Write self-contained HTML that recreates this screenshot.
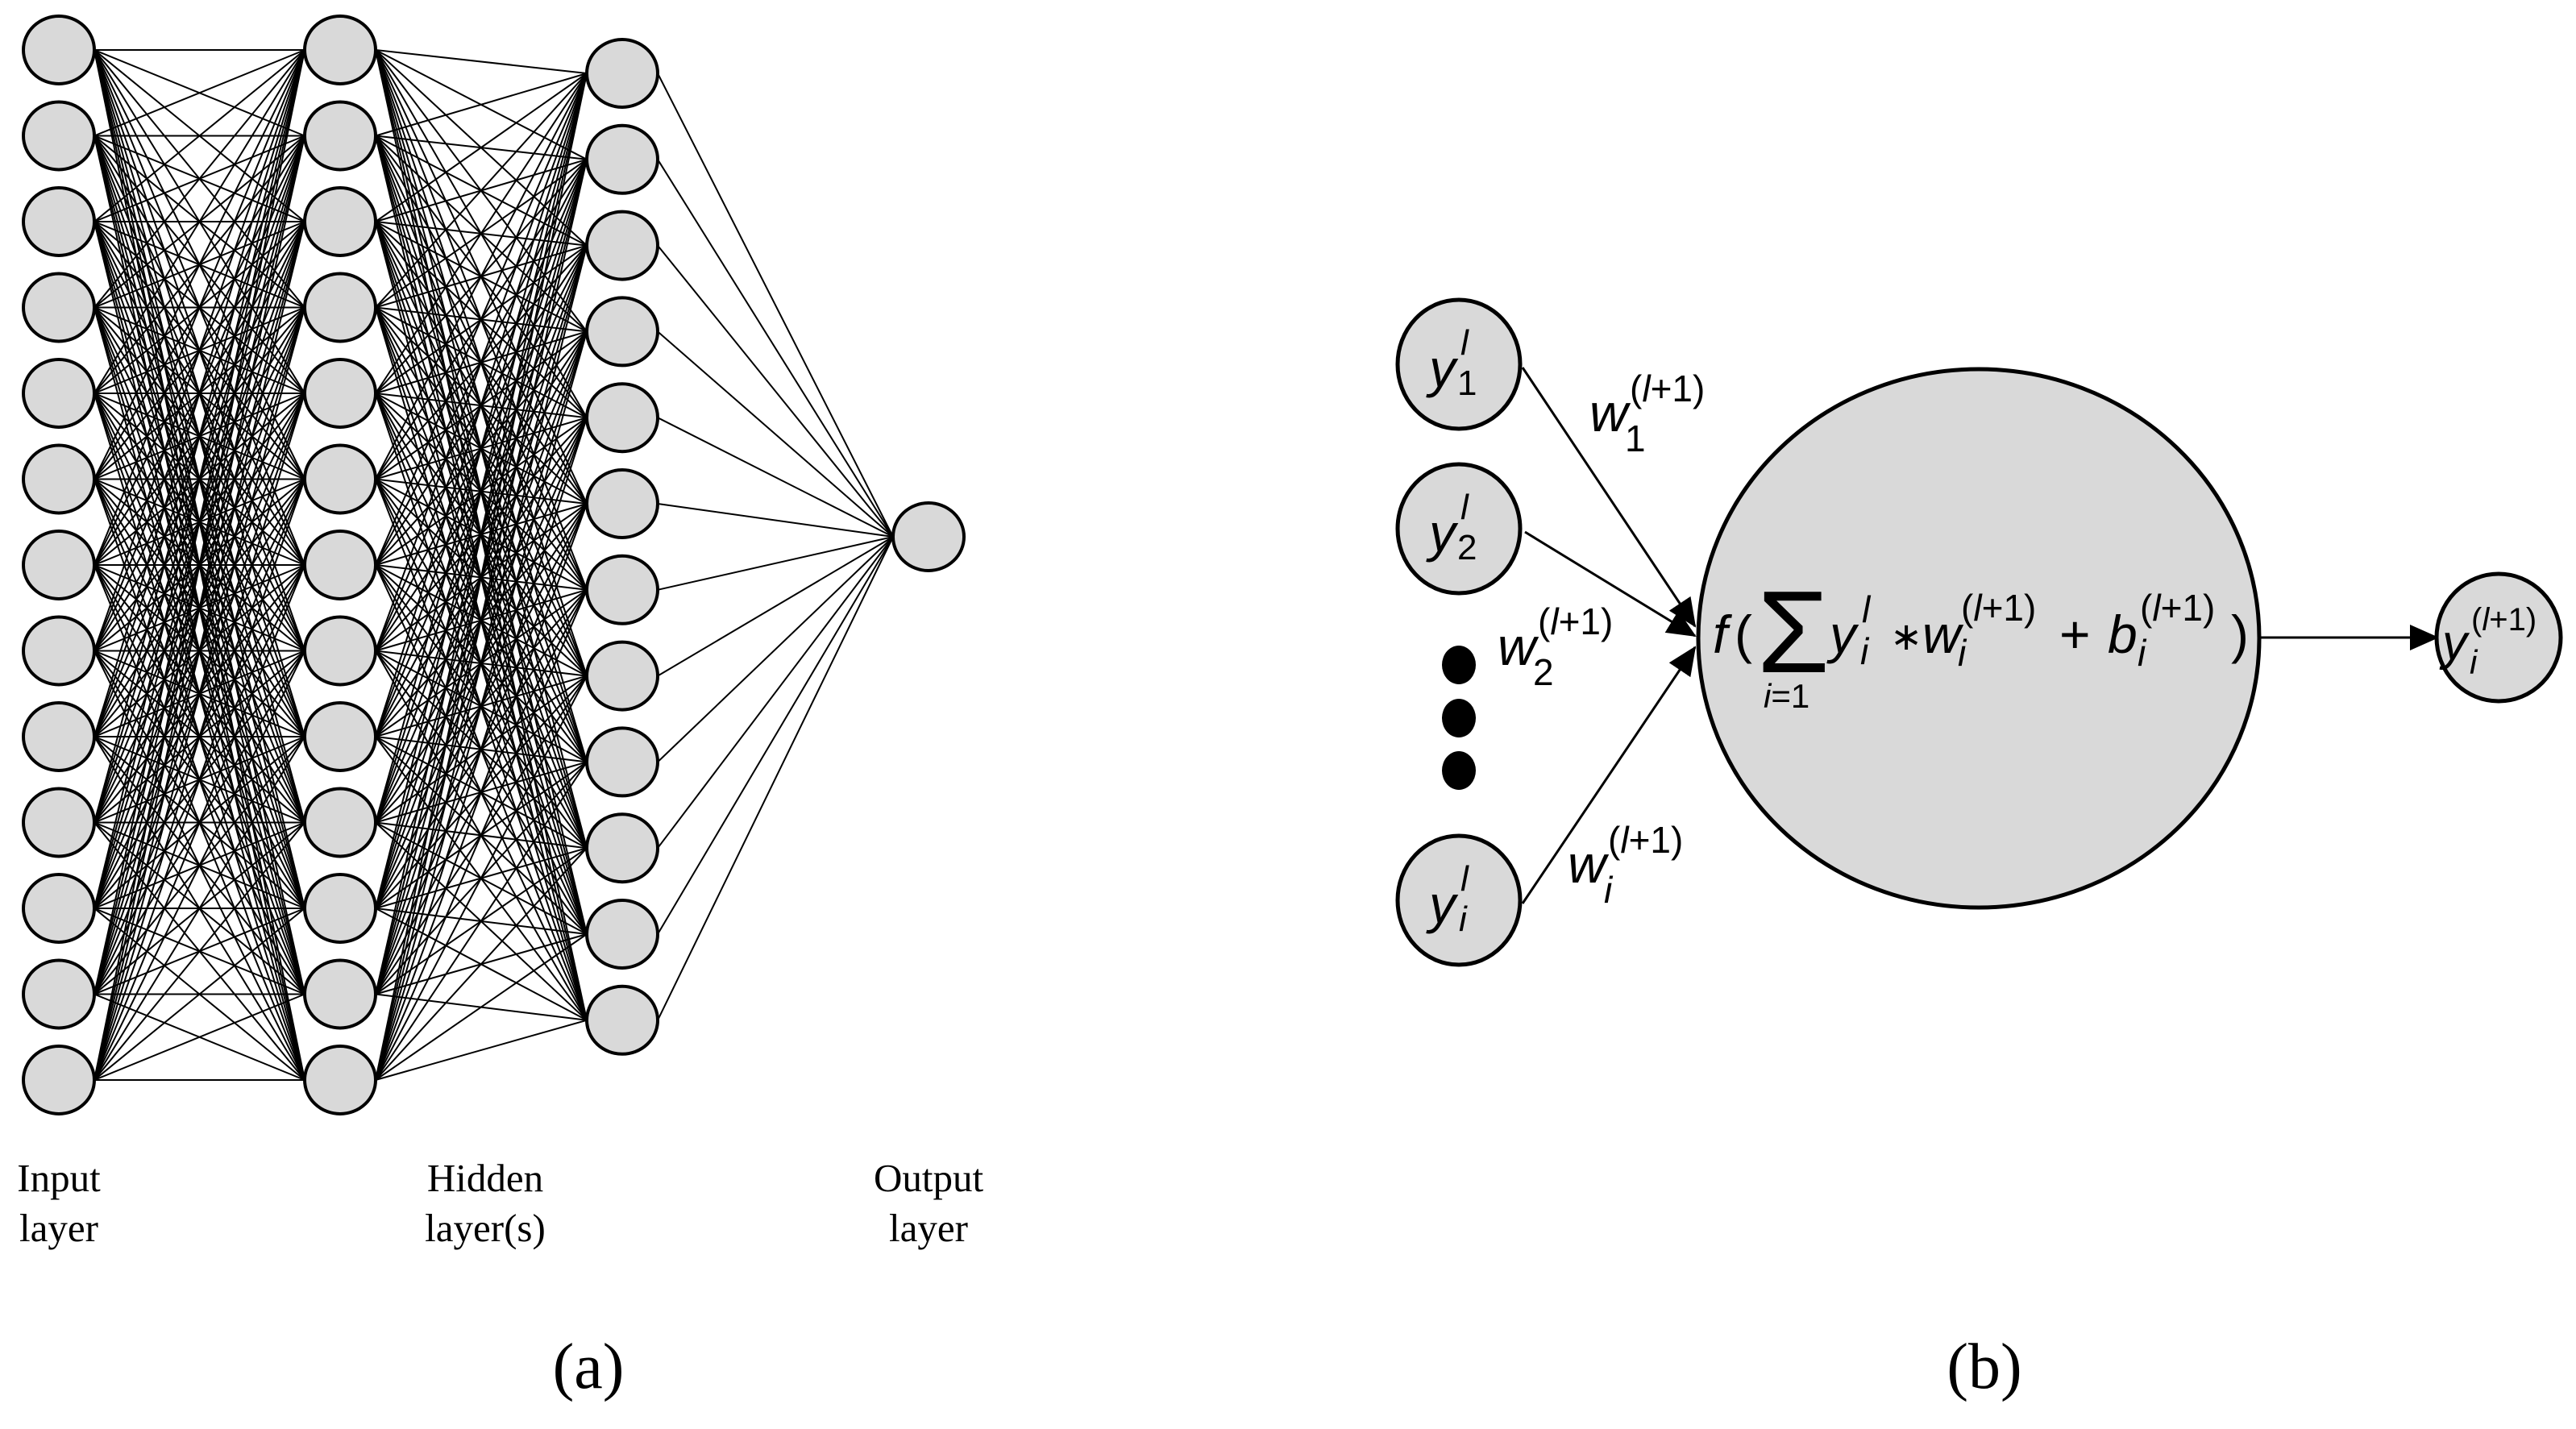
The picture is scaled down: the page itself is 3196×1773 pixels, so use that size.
<!DOCTYPE html>
<html><head><meta charset="utf-8"><style>
html,body{margin:0;padding:0;background:#fff;width:3196px;height:1773px;overflow:hidden}
svg{display:block}
.t{font-family:"Liberation Serif",serif;fill:#000}
.m{font-family:"Liberation Sans",sans-serif;font-style:italic;fill:#000}
</style></head><body>
<svg id="s" width="3196" height="1773" viewBox="0 0 3196 1773" xmlns="http://www.w3.org/2000/svg">
<defs><marker id="ah" markerWidth="36" markerHeight="32" refX="34" refY="16" orient="auto" markerUnits="userSpaceOnUse" viewBox="0 0 36 32"><path d="M0,0 L36,16 L0,32 z" fill="#000"/></marker></defs>
<g id="lines" stroke="#000" stroke-width="2"></g>
<g id="nodes" fill="#d9d9d9" stroke="#000" stroke-width="4"></g>
<g class="t" font-size="49" text-anchor="middle">
<text x="73" y="1478">Input</text><text x="73" y="1540">layer</text>
<text x="602" y="1478">Hidden</text><text x="602" y="1540">layer(s)</text>
<text x="1152" y="1478">Output</text><text x="1152" y="1540">layer</text>
<text x="730" y="1722" font-size="80">(a)</text>
<text x="2462" y="1722" font-size="80">(b)</text>
</g>
<g stroke="#000" stroke-width="3">
<line x1="1889" y1="456" x2="2103" y2="777" marker-end="url(#ah)"/>
<line x1="1892" y1="660" x2="2103" y2="789" marker-end="url(#ah)"/>
<line x1="1889" y1="1121" x2="2103" y2="803" marker-end="url(#ah)"/>
<line x1="2805" y1="791" x2="3024" y2="791" marker-end="url(#ah)"/>
</g>
<g fill="#d9d9d9" stroke="#000" stroke-width="5">
<ellipse cx="1810" cy="452" rx="76" ry="80"/>
<ellipse cx="1810" cy="656" rx="76" ry="80"/>
<ellipse cx="1810" cy="1117" rx="76" ry="80"/>
<ellipse cx="2455" cy="792" rx="348" ry="334"/>
<ellipse cx="3100" cy="791" rx="77" ry="79"/>
</g>
<g fill="#000"><ellipse cx="1810" cy="825" rx="21" ry="24"/><ellipse cx="1810" cy="891" rx="21" ry="24"/><ellipse cx="1810" cy="956" rx="21" ry="24"/></g>
<g class="m" font-size="66">
<text x="1773" y="480">y</text><text x="1812" y="440" font-size="44">l</text><text x="1808" y="490" font-size="44" font-style="normal">1</text>
<text x="1773" y="684">y</text><text x="1812" y="644" font-size="44">l</text><text x="1808" y="694" font-size="44" font-style="normal">2</text>
<text x="1773" y="1145">y</text><text x="1812" y="1105" font-size="44">l</text><text x="1810" y="1155" font-size="44">i</text>
<text x="1972" y="535">w</text><text x="2016" y="560" font-size="46" font-style="normal">1</text><text x="2022" y="498" font-size="46" font-style="normal">(<tspan font-style="italic">l</tspan>+1)</text>
<text x="1858" y="825">w</text><text x="1902" y="850" font-size="46" font-style="normal">2</text><text x="1908" y="787" font-size="46" font-style="normal">(<tspan font-style="italic">l</tspan>+1)</text>
<text x="1945" y="1095">w</text><text x="1990" y="1120" font-size="46">i</text><text x="1995" y="1058" font-size="46" font-style="normal">(<tspan font-style="italic">l</tspan>+1)</text>
<text x="2125" y="810">f</text><text x="2152" y="810" font-style="normal">(</text>
<text x="2180" y="834" font-size="145" font-style="normal">Σ</text>
<text x="2188" y="878" font-size="42">i<tspan font-style="normal">=1</tspan></text>
<text x="2270" y="810">y</text><text x="2310" y="772" font-size="46">l</text><text x="2308" y="824" font-size="46">i</text>
<text x="2345" y="806" font-size="48" font-style="normal">∗</text>
<text x="2385" y="810">w</text><text x="2429" y="826" font-size="46">i</text><text x="2433" y="770" font-size="46" font-style="normal">(<tspan font-style="italic">l</tspan>+1)</text>
<text x="2555" y="810" font-style="normal">+</text>
<text x="2615" y="810">b</text><text x="2652" y="826" font-size="46">i</text><text x="2655" y="770" font-size="46" font-style="normal">(<tspan font-style="italic">l</tspan>+1)</text>
<text x="2768" y="810" font-style="normal">)</text>
<text x="3030" y="818" font-size="62">y</text><text x="3064" y="836" font-size="42">i</text><text x="3066" y="782" font-size="40" font-style="normal">(<tspan font-style="italic">l</tspan>+1)</text>
</g>
</svg>
<script>
(function(){
var NS="http://www.w3.org/2000/svg";
var L=document.getElementById("lines"),N=document.getElementById("nodes");
var r=44;
var A=[],B=[],C=[],O=[[1152,666]];
for(var i=0;i<13;i++){A.push([73,62+106.5*i]);B.push([422,62+106.5*i]);}
for(var i=0;i<12;i++){C.push([772,91+106.8*i]);}
function conn(P,Q){P.forEach(function(p){Q.forEach(function(q){var l=document.createElementNS(NS,"line");l.setAttribute("x1",p[0]+r);l.setAttribute("y1",p[1]);l.setAttribute("x2",q[0]-r);l.setAttribute("y2",q[1]);L.appendChild(l);});});}
conn(A,B);conn(B,C);conn(C,O);
[A,B,C,O].forEach(function(S){S.forEach(function(p){var e=document.createElementNS(NS,"ellipse");e.setAttribute("cx",p[0]);e.setAttribute("cy",p[1]);e.setAttribute("rx",r);e.setAttribute("ry",42);N.appendChild(e);});});
})();
</script>
</body></html>
